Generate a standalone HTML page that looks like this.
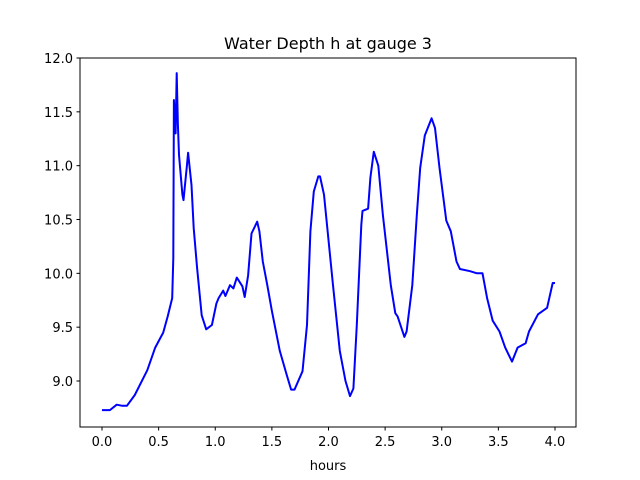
<!DOCTYPE html>
<html><head><meta charset="utf-8"><style>
body{margin:0;background:#fff}
svg{display:block;font-family:"DejaVu Sans","Liberation Sans",sans-serif}
</style></head><body>
<svg width="640" height="480" viewBox="0 0 640 480">
<rect width="640" height="480" fill="#fff"/>
<text x="328" y="49" text-anchor="middle" font-size="16">Water Depth h at gauge 3</text>
<text x="328" y="470" text-anchor="middle" font-size="13">hours</text>
<g id="ticks"></g>
<path id="line" fill="none" stroke="#0000ff" stroke-width="2" stroke-linejoin="round"/>
<rect x="80" y="58" width="496" height="369" fill="none" stroke="#000" stroke-width="1"/>
</svg>
<script>
const hours=[0,0.07,0.13,0.18,0.22,0.29,0.40,0.47,0.54,0.58,0.62,0.63,0.635,0.65,0.66,0.67,0.68,0.71,0.72,0.75,0.76,0.79,0.81,0.84,0.88,0.92,0.97,1.01,1.03,1.07,1.09,1.13,1.16,1.19,1.24,1.26,1.29,1.32,1.37,1.39,1.42,1.46,1.50,1.57,1.63,1.67,1.70,1.77,1.81,1.84,1.87,1.91,1.925,1.96,2.04,2.10,2.15,2.19,2.22,2.25,2.29,2.30,2.35,2.37,2.40,2.44,2.48,2.52,2.55,2.59,2.61,2.67,2.69,2.74,2.78,2.81,2.85,2.91,2.94,2.98,3.04,3.08,3.13,3.16,3.25,3.31,3.36,3.40,3.45,3.51,3.56,3.62,3.67,3.74,3.77,3.85,3.93,3.98,4.0];
const depth=[8.73,8.73,8.78,8.77,8.77,8.87,9.10,9.31,9.45,9.6,9.77,10.14,11.61,11.30,11.86,11.38,11.10,10.73,10.68,11.0,11.12,10.82,10.42,10.05,9.61,9.48,9.52,9.72,9.77,9.84,9.79,9.89,9.86,9.96,9.88,9.78,9.98,10.37,10.48,10.39,10.11,9.89,9.65,9.28,9.06,8.92,8.92,9.09,9.52,10.39,10.76,10.90,10.90,10.73,9.89,9.28,9.0,8.86,8.93,9.52,10.45,10.58,10.6,10.89,11.13,11.0,10.54,10.17,9.89,9.63,9.6,9.41,9.46,9.89,10.54,10.98,11.28,11.44,11.35,10.98,10.49,10.39,10.11,10.04,10.02,10.0,10.0,9.77,9.56,9.46,9.31,9.18,9.31,9.35,9.46,9.62,9.68,9.91,9.91];
const xTicks=[0,0.5,1.0,1.5,2.0,2.5,3.0,3.5,4.0];
const yTicks=[9.0,9.5,10.0,10.5,11.0,11.5,12.0];
const X=t=>102+t*113.25;
const Y=h=>58+(12-h)*107.67;
const NS="http://www.w3.org/2000/svg";
const g=document.getElementById('ticks');
xTicks.forEach(t=>{
  const l=document.createElementNS(NS,'line');
  
  
  l.setAttribute('x1',X(t));l.setAttribute('x2',X(t));l.setAttribute('y1',427);l.setAttribute('y2',430.5);l.setAttribute('stroke','#000');
  g.appendChild(l);
  const s=document.createElementNS(NS,'text');
  
  
  s.setAttribute('x',X(t));s.setAttribute('y',446);s.setAttribute('text-anchor','middle');s.setAttribute('font-size','13');
  s.textContent=t.toFixed(1);g.appendChild(s);
});
yTicks.forEach(h=>{
  const l=document.createElementNS(NS,'line');
  
  
  l.setAttribute('x1',76.5);l.setAttribute('x2',80);l.setAttribute('y1',Y(h));l.setAttribute('y2',Y(h));l.setAttribute('stroke','#000');
  g.appendChild(l);
  const s=document.createElementNS(NS,'text');
  
  
  s.setAttribute('x',73);s.setAttribute('y',Y(h)+5);s.setAttribute('text-anchor','end');s.setAttribute('font-size','13');
  s.textContent=h.toFixed(1);g.appendChild(s);
});
document.getElementById('line').setAttribute('d',hours.map((t,i)=>(i?'L':'M')+X(t).toFixed(1)+','+Y(depth[i]).toFixed(1)).join(''));
</script>
</body></html>
